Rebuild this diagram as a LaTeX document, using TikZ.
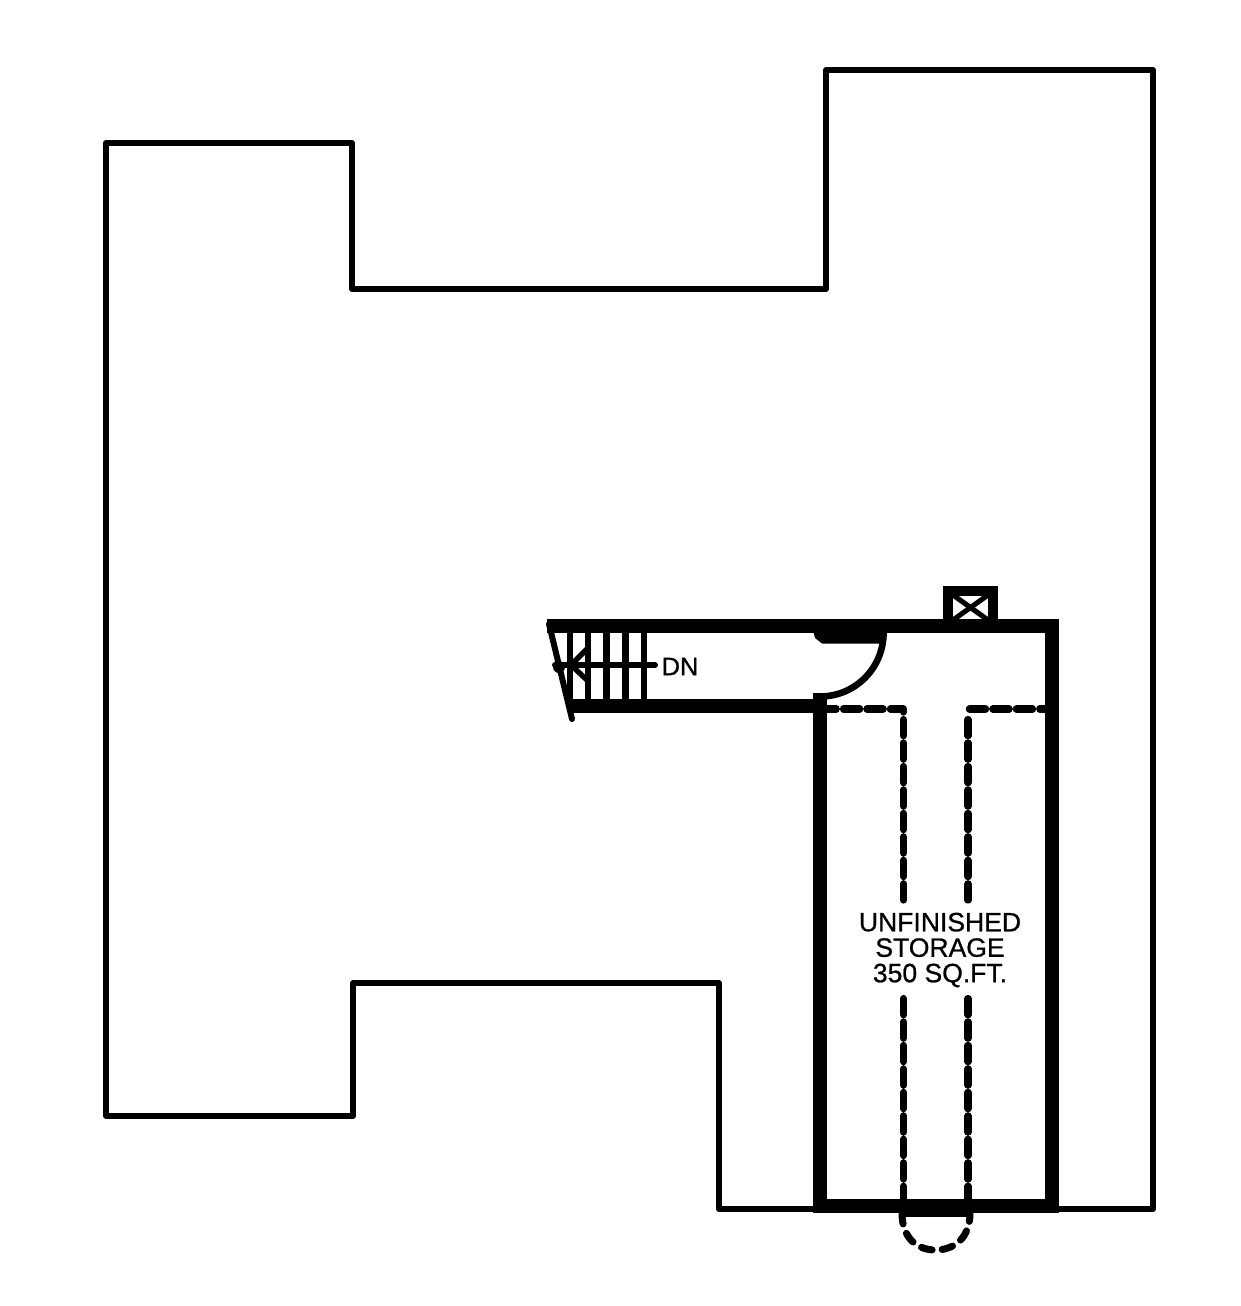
\documentclass[tikz,border=0pt]{standalone}
\usepackage{fontspec}
\setmainfont[FakeBold=0.8]{Liberation Sans}
\tikzset{
  outline/.style={line width=4.5pt,line join=round,line cap=round},
  wall/.style={line width=10pt,line join=miter},
  tread/.style={line width=4.8pt},
  hidden/.style={line width=5.4pt,line cap=round,line join=round,dash pattern=on 12.2pt off 5.4pt},
  hiddenarc/.style={line width=5.25pt,line cap=round,dash pattern=on 8.25pt off 7.5pt},
  label/.style={inner sep=0pt,align=center}
}
\begin{document}
\begin{tikzpicture}[x=0.75pt,y=-0.75pt]
\useasboundingbox (0,0) rectangle (1241,1306);
\fill[white] (0,0) rectangle (1241,1306);
% outer roof outline
\draw[outline] (106,143) -- (352,143) -- (352,289) -- (826,289) -- (826,70) -- (1153,70) -- (1153,1209) -- (719,1209) -- (719,983) -- (353,983) -- (353,1116) -- (106,1116) -- cycle;
% dashed
\draw[hidden] (820,709) -- (903.5,709) -- (903.5,712);
\draw[hidden] (903.5,719.5) -- (903.5,901.5);
\draw[hidden] (903.5,998.5) -- (903.5,1199);
\draw[hidden,dash phase=7.5pt] (1046,709) -- (968,709) -- (968,712);
\draw[hidden] (968,719.5) -- (968,901.5);
\draw[hidden] (968,998.5) -- (968,1199);
% thick walls
\draw[wall] (547,626) -- (1052,626) -- (1052,1206) -- (820,1206) -- (820,706) -- (570,706);
% chimney
\draw[line width=7.5pt,line join=miter] (948,626) -- (948,590.5) -- (993,590.5) -- (993,626);
\draw[line width=3.8pt] (953,595) -- (988,620);
\draw[line width=3.8pt] (988,595) -- (953,620);
% door
\fill (813,630) -- (815,638) -- (822,643.5) -- (881,643.5) -- (883,630) -- cycle;
\draw[line width=5pt] (883.5,633) arc[start angle=0,end angle=90,radius=63.5] -- (813,696.5);
% stair
\foreach \x in {570,588,606.5,625.5,644} \draw[tread] (\x,630) -- (\x,702);
\draw[line width=4.5pt,line cap=round] (549,624) -- (572,719);
\draw[line width=4.5pt,line cap=round] (555,665) -- (655,665);
\draw[line width=4pt] (588,648) -- (571,665) -- (588,681);
\fill (559,667) circle[radius=6];
% bottom bay
\fill (902,1210) rectangle (971,1217);
\draw[hiddenarc] (902,1213) .. controls (902,1238) and (917,1250) .. (935.5,1250) .. controls (954,1250) and (970,1238) .. (970,1213);
% text
\node[label,font=\fontsize{19pt}{19pt}\selectfont] (dn) at (680,666.5) {DN};
\node[label,font=\fontsize{19.9pt}{19.1pt}\selectfont] (storage) at (940,950) {UNFINISHED\\STORAGE\\350 SQ.FT.};
\end{tikzpicture}
\end{document}
